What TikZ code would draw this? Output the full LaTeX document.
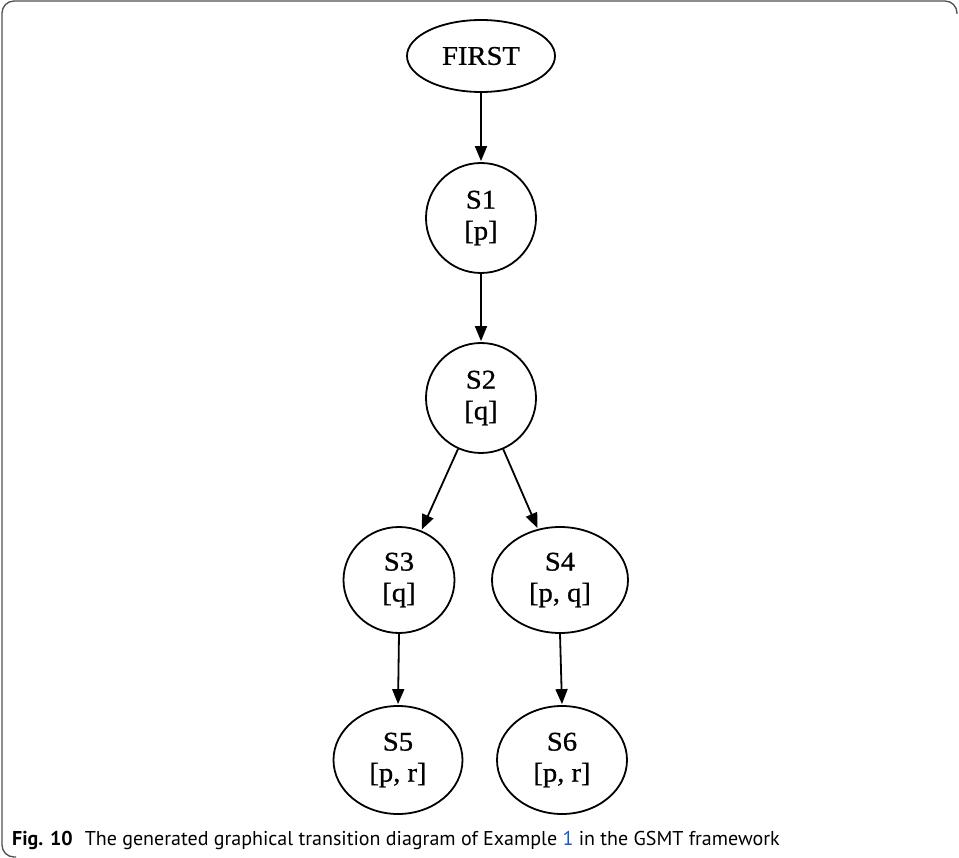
\documentclass[tikz,border=0pt]{standalone}
\usepackage{fontspec}
\setmainfont{Liberation Serif}
\newfontfamily\statefont[FakeBold=0.8,FakeStretch=1.06]{Liberation Serif}
\newfontfamily\captionfont{PT Sans}
\usetikzlibrary{shapes.geometric,arrows.meta}
\definecolor{linkblue}{RGB}{20,90,200}
\definecolor{framegray}{RGB}{80,80,80}
\begin{document}
\begin{tikzpicture}[x=1pt,y=-1pt,
  state/.style={draw=black,line width=1.8pt,ellipse,inner sep=0pt,align=center,
    font=\statefont\fontsize{27}{31}\selectfont},
  trans/.style={draw=black,line width=1.8pt,-{Triangle[length=15pt,width=12pt]},shorten >=1pt}]
  \useasboundingbox (0,0) rectangle (959,858);
  % outer frame (open on the right and bottom)
  \draw[framegray,line width=1.3pt,rounded corners=12pt]
    (16,857) -- (2,857) -- (2,1) -- (957,1) -- (957,14);

  % states
  \node[state,minimum width=148pt,minimum height=72pt] (first) at (481,56) {FIRST};
  \node[state,minimum width=110pt,minimum height=110pt] (s1) at (481,218) {S1\\{}[p]};
  \node[state,minimum width=110pt,minimum height=110pt] (s2) at (481,398) {S2\\{}[q]};
  \node[state,minimum width=111pt,minimum height=106pt] (s3) at (399,580) {S3\\{}[q]};
  \node[state,minimum width=136pt,minimum height=106pt] (s4) at (560,580) {S4\\{}[p, q]};
  \node[state,minimum width=129pt,minimum height=108pt] (s5) at (398,760) {S5\\{}[p, r]};
  \node[state,minimum width=130pt,minimum height=108pt] (s6) at (562,760) {S6\\{}[p, r]};

  % transitions
  \draw[trans] (first) -- (s1);
  \draw[trans] (s1) -- (s2);
  \draw[trans] (s2) -- (s3);
  \draw[trans] (s2) -- (s4);
  \draw[trans] (s3.south) -- (s5.north);
  \draw[trans] (s4.south) -- (s6.north);

  % caption
  \node[anchor=base west,inner sep=0pt,font=\captionfont\fontsize{20}{24}\selectfont] (cap) at (12,845)
    {\textbf{Fig. 10}\hspace{0.6em}The generated graphical transition diagram of Example \textcolor{linkblue}{1} in the GSMT framework};
\end{tikzpicture}
\end{document}
